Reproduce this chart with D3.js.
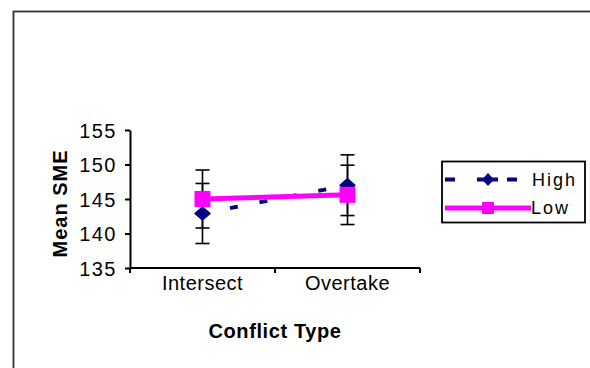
<!DOCTYPE html>
<html><head><meta charset="utf-8">
<script src="https://cdn.jsdelivr.net/npm/d3@7"></script>
<style>body{margin:0;background:#fff}svg{display:block}text{font-family:"Liberation Sans",Arial,sans-serif}</style>
</head><body><svg id="c" width="590" height="368"></svg>
<script>
const categories = ["Intersect", "Overtake"];
const highValues = [142.9, 147.0];
const highErr = [4.35, 4.4];
const lowValues = [145.0, 145.6];
const lowErr = [4.2, 4.3];
const yTicks = [135, 140, 145, 150, 155];
const seriesNames = ["High", "Low"];

const svg = d3.select("#c");
svg.append("rect").attr("x", 13.5).attr("y", 11.5).attr("width", 600).attr("height", 400)
  .attr("fill", "none").attr("stroke", "#333").attr("stroke-width", 1.8);

const x = d3.scaleBand().domain(categories).range([130, 420]);
const y = d3.scaleLinear().domain([135, 155]).range([268, 130]);
const cx = c => x(c) + x.bandwidth() / 2;

// axes
const ya = svg.append("g").attr("transform", "translate(130,0)")
  .call(d3.axisLeft(y).tickValues(yTicks).tickSize(5).tickSizeOuter(0).tickPadding(8));
const xa = svg.append("g").attr("transform", "translate(0,268)")
  .call(d3.axisBottom(x).tickSize(0).tickSizeOuter(0).tickPadding(22));
const bounds = [130, 275, 420];
xa.selectAll(".bt").data(bounds).enter().append("line")
  .attr("x1", d => d).attr("x2", d => d).attr("y1", 0).attr("y2", 5).attr("stroke", "#000").attr("stroke-width", 2);
[ya, xa].forEach(g => {
  g.select(".domain").attr("stroke", "#000").attr("stroke-width", 2);
  g.selectAll(".tick line").attr("stroke", "#000").attr("stroke-width", 2);
  g.selectAll("text").attr("font-size", 20).attr("fill", "#000").attr("letter-spacing", 1);
});
ya.selectAll("text").attr("letter-spacing", 1.5).attr("dy", "0.36em");
xa.selectAll("text").attr("letter-spacing", 0.5).attr("dy", 0);
xa.select(".domain").attr("d", "M130,0H420");

svg.append("text").attr("transform", "translate(67,203.5) rotate(-90)")
  .attr("text-anchor", "middle").attr("font-weight", "bold").attr("font-size", 20)
  .attr("letter-spacing", 1).text("Mean SME");
svg.append("text").attr("x", 275).attr("y", 338)
  .attr("text-anchor", "middle").attr("font-weight", "bold").attr("font-size", 20)
  .attr("letter-spacing", 0.6).text("Conflict Type");

// error bars
function errBars(vals, errs) {
  categories.forEach((c, i) => {
    const g = svg.append("g").attr("stroke", "#000").attr("stroke-width", 1.6);
    const X = cx(c);
    g.append("line").attr("x1", X).attr("x2", X).attr("y1", y(vals[i] - errs[i])).attr("y2", y(vals[i] + errs[i]));
    [vals[i] - errs[i], vals[i] + errs[i]].forEach(v =>
      g.append("line").attr("x1", X - 7).attr("x2", X + 7).attr("y1", y(v)).attr("y2", y(v)));
  });
}
errBars(highValues, highErr);
errBars(lowValues, lowErr);

const line = d3.line().x((d, i) => cx(categories[i])).y(d => y(d));
svg.append("path").datum(highValues).attr("d", line).attr("fill", "none")
  .attr("stroke", "#000080").attr("stroke-width", 4).attr("stroke-dasharray", "8,22").attr("stroke-dashoffset", 2);
svg.append("path").datum(lowValues).attr("d", line).attr("fill", "none")
  .attr("stroke", "#FF00FF").attr("stroke-width", 5);

const diamondPath = (w, h) => `M0,${-h}L${w},0L0,${h}L${-w},0Z`;
svg.selectAll(".hm").data(highValues).enter().append("path")
  .attr("transform", (d, i) => `translate(${cx(categories[i])},${y(d)})`)
  .attr("d", diamondPath(8.5, 7.5)).attr("fill", "#000080");
svg.selectAll(".lm").data(lowValues).enter().append("rect")
  .attr("x", (d, i) => cx(categories[i]) - 8).attr("y", d => y(d) - 8)
  .attr("width", 16).attr("height", 16).attr("fill", "#FF00FF");

// legend
const lg = svg.append("g");
lg.append("rect").attr("x", 442).attr("y", 161.5).attr("width", 143).attr("height", 61)
  .attr("fill", "#fff").attr("stroke", "#000").attr("stroke-width", 1.8);
[[445, 455], [477, 498], [507, 517]].forEach(s =>
  lg.append("line").attr("x1", s[0]).attr("x2", s[1]).attr("y1", 179.5).attr("y2", 179.5)
    .attr("stroke", "#000080").attr("stroke-width", 4));
lg.append("path").attr("transform", "translate(488,179.5)").attr("d", diamondPath(6, 6.5)).attr("fill", "#000080");
lg.append("line").attr("x1", 445).attr("x2", 531).attr("y1", 208).attr("y2", 208)
  .attr("stroke", "#FF00FF").attr("stroke-width", 5);
lg.append("rect").attr("x", 482).attr("y", 202).attr("width", 12).attr("height", 12).attr("fill", "#FF00FF");
lg.append("text").attr("x", 532).attr("y", 186).attr("font-size", 18).attr("letter-spacing", 2).text(seriesNames[0]);
lg.append("text").attr("x", 531).attr("y", 214).attr("font-size", 18).attr("letter-spacing", 2).text(seriesNames[1]);
</script></body></html>
